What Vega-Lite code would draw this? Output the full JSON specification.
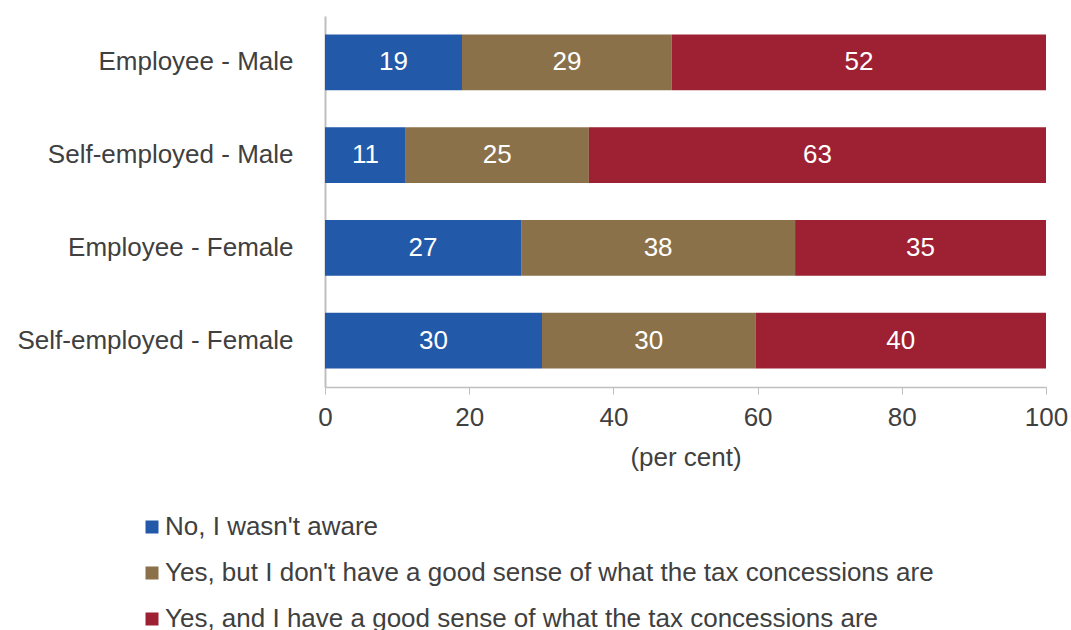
{
  "$schema": "https://vega.github.io/schema/vega-lite/v6.json",
  "width": 721,
  "height": 371,
  "autosize": {"type": "none"},
  "padding": {"left": 325, "top": 16, "right": 25, "bottom": 243},
  "background": "white",
  "config": {
    "font": "Liberation Sans",
    "view": {"stroke": null}
  },
  "data": {
    "values": [
      {"group": "Employee - Male", "response": "No, I wasn't aware", "value": 19.0},
      {"group": "Employee - Male", "response": "Yes, but I don't have a good sense of what the tax concessions are", "value": 29.1},
      {"group": "Employee - Male", "response": "Yes, and I have a good sense of what the tax concessions are", "value": 51.9},
      {"group": "Self-employed - Male", "response": "No, I wasn't aware", "value": 11.2},
      {"group": "Self-employed - Male", "response": "Yes, but I don't have a good sense of what the tax concessions are", "value": 25.4},
      {"group": "Self-employed - Male", "response": "Yes, and I have a good sense of what the tax concessions are", "value": 63.4},
      {"group": "Employee - Female", "response": "No, I wasn't aware", "value": 27.2},
      {"group": "Employee - Female", "response": "Yes, but I don't have a good sense of what the tax concessions are", "value": 38.0},
      {"group": "Employee - Female", "response": "Yes, and I have a good sense of what the tax concessions are", "value": 34.8},
      {"group": "Self-employed - Female", "response": "No, I wasn't aware", "value": 30.1},
      {"group": "Self-employed - Female", "response": "Yes, but I don't have a good sense of what the tax concessions are", "value": 29.6},
      {"group": "Self-employed - Female", "response": "Yes, and I have a good sense of what the tax concessions are", "value": 40.3}
    ]
  },
  "transform": [
    {"calculate": "indexof(['No, I wasn\\'t aware','Yes, but I don\\'t have a good sense of what the tax concessions are','Yes, and I have a good sense of what the tax concessions are'], datum.response)", "as": "order"},
    {"stack": "value", "groupby": ["group"], "sort": [{"field": "order", "order": "ascending"}], "as": ["x0", "x1"]},
    {"calculate": "(datum.x0 + datum.x1) / 2", "as": "xmid"}
  ],
  "encoding": {
    "y": {
      "field": "group",
      "type": "nominal",
      "sort": ["Employee - Male", "Self-employed - Male", "Employee - Female", "Self-employed - Female"],
      "scale": {"paddingInner": 0.4, "paddingOuter": 0.2},
      "axis": {
        "title": null,
        "ticks": false,
        "labelPadding": 32,
        "labelFontSize": 26,
        "labelLimit": 400,
        "labelColor": "#404040",
        "domainColor": "#bfbfbf",
        "domainWidth": 2
      }
    }
  },
  "layer": [
    {
      "mark": {"type": "bar"},
      "encoding": {
        "x": {
          "field": "x0",
          "type": "quantitative",
          "scale": {"domain": [0, 100], "nice": false},
          "axis": {
            "title": "(per cent)",
            "values": [0, 20, 40, 60, 80, 100],
            "grid": false,
            "tickSize": 7,
            "tickColor": "#bfbfbf",
            "domainColor": "#bfbfbf",
            "domainWidth": 1.5,
            "labelFontSize": 26,
            "labelColor": "#404040",
            "labelPadding": 10,
            "titleFontSize": 26,
            "titleFontWeight": "normal",
            "titleColor": "#404040",
            "titlePadding": 14,
            "labelFlush": false
          }
        },
        "x2": {"field": "x1"},
        "color": {
          "field": "response",
          "type": "nominal",
          "scale": {
            "domain": ["No, I wasn't aware", "Yes, but I don't have a good sense of what the tax concessions are", "Yes, and I have a good sense of what the tax concessions are"],
            "range": ["#2259a8", "#8b714a", "#9d2133"]
          },
          "legend": {
            "title": null,
            "orient": "none",
            "legendX": -186,
            "legendY": 498,
            "direction": "vertical",
            "symbolType": "square",
            "symbolSize": 169,
            "symbolStrokeWidth": 0,
            "symbolOpacity": 1,
            "labelFontSize": 26,
            "labelColor": "#404040",
            "labelOffset": 0,
            "labelLimit": 900,
            "rowPadding": 20
          }
        }
      }
    },
    {
      "mark": {"type": "text", "color": "white", "fontSize": 26, "baseline": "middle", "align": "center"},
      "encoding": {
        "x": {"field": "xmid", "type": "quantitative"},
        "text": {"field": "value", "type": "quantitative", "format": ".0f"}
      }
    }
  ]
}
